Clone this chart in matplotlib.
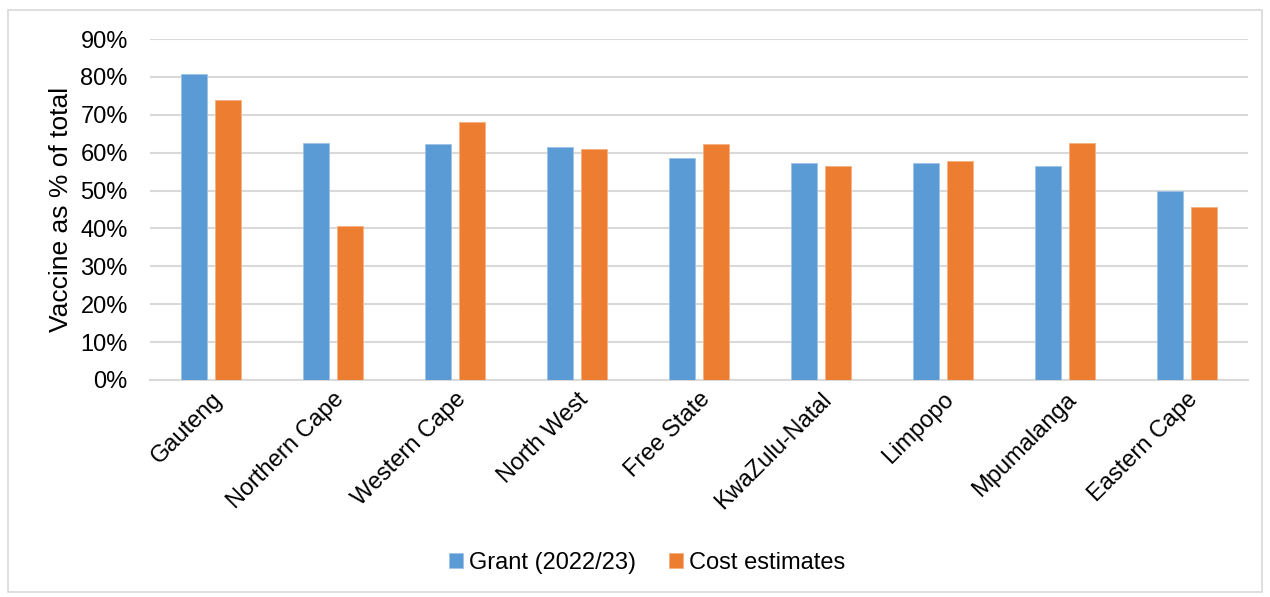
import matplotlib
matplotlib.use("Agg")
import matplotlib.pyplot as plt
import numpy as np
from matplotlib.patches import Rectangle

categories = ["Gauteng", "Northern Cape", "Western Cape", "North West", "Free State",
              "KwaZulu-Natal", "Limpopo", "Mpumalanga", "Eastern Cape"]
grant = [80.7, 62.6, 62.3, 61.6, 58.7, 57.3, 57.3, 56.6, 49.8]
cost = [73.8, 40.6, 68.1, 60.9, 62.3, 56.6, 57.9, 62.6, 45.7]
yticks = [0, 10, 20, 30, 40, 50, 60, 70, 80, 90]
series_names = ["Grant (2022/23)", "Cost estimates"]
colors = ["#5b9bd5", "#ed7d31"]

plt.rcParams['font.family'] = ['Liberation Sans', 'DejaVu Sans']

fig = plt.figure(figsize=(12.7, 5.97), dpi=100)
W, H = 1270, 597
ax = fig.add_axes([150 / W, 1 - 380 / H, (1248 - 150) / W, (380 - 39) / H])

x = np.arange(len(categories))
bw = 0.22
off = 0.139
ax.bar(x - off, grant, bw, color=colors[0], label=series_names[0], zorder=3,
       edgecolor="#9dc3e6", linewidth=0.6)
ax.bar(x + off, cost, bw, color=colors[1], label=series_names[1], zorder=3,
       edgecolor="#f4b183", linewidth=0.6)

ax.set_xlim(-0.5, len(categories) - 0.5)
ax.set_ylim(0, 90)
ax.set_yticks(yticks)
ax.set_yticklabels([f"{v}%" for v in yticks], fontsize=17, color="#000000")
ax.yaxis.grid(True, color="#d9d9d9", linewidth=1.5, zorder=0)
ax.set_axisbelow(True)
for s in ["top", "right", "left"]:
    ax.spines[s].set_visible(False)
ax.spines["bottom"].set_color("#d9d9d9")
ax.spines["bottom"].set_linewidth(1.5)
ax.tick_params(axis="y", length=0, pad=16)
ax.tick_params(axis="x", length=0, pad=6)
ax.set_xticks(x)
ax.set_xticklabels(categories, rotation=45, ha="right", rotation_mode="anchor", fontsize=17)
ax.set_ylabel("Vaccine as % of total", fontsize=19, labelpad=5)

leg = fig.legend(loc="center", bbox_to_anchor=(647 / W, 1 - 563 / H), ncol=2, frameon=False,
                 fontsize=17, handlelength=0.6, handleheight=0.6, handletextpad=0.25,
                 columnspacing=1.4)

fig.patches.append(Rectangle((8 / W, 5 / H), (1262 - 8) / W, (587 - 5) / H,
                             transform=fig.transFigure, fill=False,
                             edgecolor="#d9d9d9", linewidth=1.2))

fig.savefig("out.png", dpi=100, facecolor="white")
